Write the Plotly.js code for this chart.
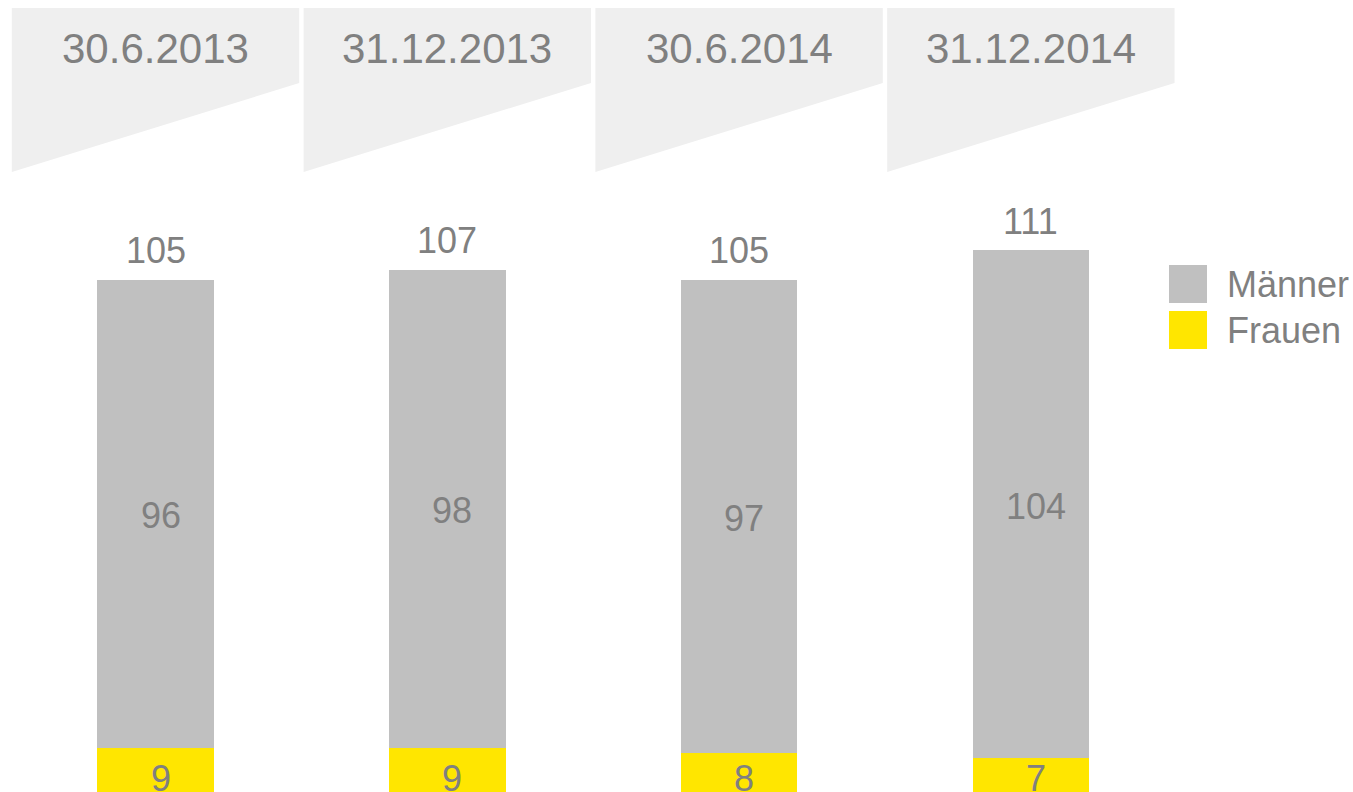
<!DOCTYPE html>
<html>
<head>
<meta charset="utf-8">
<script src="https://cdn.plot.ly/plotly-3.0.1.min.js"></script>
<style>
html,body{margin:0;padding:0;background:#fff;}
#chart{width:1353px;height:792px;}
</style>
</head>
<body>
<div id="chart"></div>
<script>
const dates = ['30.6.2013', '31.12.2013', '30.6.2014', '31.12.2014'];
const maenner = [96, 98, 97, 104];
const frauen = [9, 9, 8, 7];
const seriesNames = ['Männer', 'Frauen'];
const seriesColors = ['#c0c0c0', '#ffe600'];

const idx = dates.map((d, i) => i);
const totals = idx.map(i => maenner[i] + frauen[i]);

const FONT = 'Arial, "Liberation Sans", sans-serif';
const TXT = '#808080';
const xRange = [-0.533, 4.104];
const yRange = [0, 162.3];

const traces = [
  {
    type: 'bar', name: seriesNames[1], x: idx, y: frauen,
    marker: {color: seriesColors[1]}, width: 0.4,
    hoverinfo: 'skip'
  },
  {
    type: 'bar', name: seriesNames[0], x: idx, y: maenner,
    marker: {color: seriesColors[0]}, width: 0.4,
    hoverinfo: 'skip'
  }
];

const shapes = [];
const annotations = [];
const half = 0.4925;
idx.forEach(i => {
  shapes.push({
    type: 'path', xref: 'x', yref: 'paper',
    path: `M ${i - half} 0.9899 L ${i + half} 0.9899 L ${i + half} 0.8952 L ${i - half} 0.7828 Z`,
    fillcolor: '#efefef', line: {width: 0}, layer: 'below'
  });
  annotations.push({
    x: i, y: 0.9388, xref: 'x', yref: 'paper', text: dates[i], showarrow: false,
    xanchor: 'center', yanchor: 'middle', font: {family: FONT, size: 42, color: TXT}
  });
  annotations.push({
    x: i, y: totals[i], xref: 'x', yref: 'y', text: String(totals[i]), showarrow: false,
    xanchor: 'center', yanchor: 'middle', yshift: 29, font: {family: FONT, size: 36, color: TXT}
  });
  annotations.push({
    x: i, y: frauen[i] + maenner[i] / 2, xref: 'x', yref: 'y', text: String(maenner[i]), showarrow: false,
    xanchor: 'center', yanchor: 'middle', xshift: 5, yshift: -2, font: {family: FONT, size: 36, color: TXT}
  });
  annotations.push({
    x: i, y: 0, xref: 'x', yref: 'y', text: String(frauen[i]), showarrow: false,
    xanchor: 'center', yanchor: 'middle', xshift: 5, yshift: 14, font: {family: FONT, size: 36, color: TXT}
  });
});

// legend
const W = 1353, H = 792;
const legRows = [{y: 284}, {y: 330}];
seriesNames.forEach((n, k) => {
  const cy = legRows[k].y;
  shapes.push({
    type: 'rect', xref: 'paper', yref: 'paper',
    x0: 1169 / W, x1: 1207 / W, y0: 1 - (cy + 19) / H, y1: 1 - (cy - 19) / H,
    fillcolor: seriesColors[k], line: {width: 0}
  });
  annotations.push({
    x: 1225 / W, y: 1 - cy / H, xref: 'paper', yref: 'paper', text: n, showarrow: false,
    xanchor: 'left', yanchor: 'middle', font: {family: FONT, size: 36, color: TXT}
  });
});

const layout = {
  width: W, height: H,
  margin: {l: 0, r: 0, t: 0, b: 0, pad: 0},
  paper_bgcolor: '#ffffff', plot_bgcolor: '#ffffff',
  barmode: 'stack', showlegend: false,
  xaxis: {range: xRange, visible: false, fixedrange: true},
  yaxis: {range: yRange, visible: false, fixedrange: true},
  shapes: shapes, annotations: annotations,
  font: {family: FONT, color: TXT}
};

Plotly.newPlot('chart', traces, layout, {staticPlot: true, displayModeBar: false});
</script>
</body>
</html>
